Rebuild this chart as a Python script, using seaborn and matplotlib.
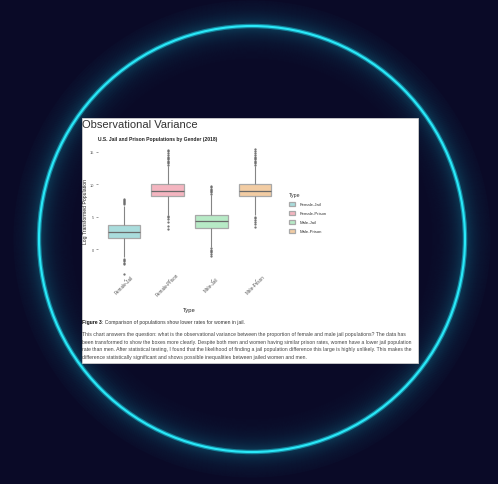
import numpy as np
import pandas as pd
import matplotlib
matplotlib.use("Agg")
import matplotlib.pyplot as plt
import seaborn as sns
from matplotlib.patches import Circle, Rectangle

# groups and colours
types = ['Female-Jail', 'Female-Prison', 'Male-Jail', 'Male-Prison']
colors = ['#a0e5e5', '#ffabb9', '#aff2c3', '#ffcc96']

# box summaries: low whisker, q1, median, q3, high whisker
female_jail = [-1.25, 1.7, 2.6, 3.7, 6.65]
female_prison = [5.3, 8.1, 9.0, 10.0, 12.8]
male_jail = [0.35, 3.3, 4.25, 5.3, 8.25]
male_prison = [5.3, 8.1, 9.0, 10.0, 12.8]

# outlier points
female_jail_out = [7.0, 7.15, 7.3, 7.45, 7.6, 7.7, -1.5, -1.7, -1.9, -2.1, -2.3, -3.9]
female_prison_out = [13.0, 13.2, 13.4, 13.6, 13.8, 14.0, 14.2, 14.5, 14.8, 15.1, 15.3,
                     5.1, 4.9, 4.6, 4.2, 3.6, 3.1]
male_jail_out = [8.5, 8.7, 8.9, 9.1, 9.3, 9.5, 9.7, 0.1, -0.1, -0.3, -0.5, -0.7, -1.0]
male_prison_out = [13.0, 13.2, 13.4, 13.6, 13.8, 14.0, 14.2, 14.5, 14.8, 15.1, 15.4,
                   5.0, 4.8, 4.5, 4.1, 3.8, 3.4]

summaries = [female_jail, female_prison, male_jail, male_prison]
outliers = [female_jail_out, female_prison_out, male_jail_out, male_prison_out]

# weight the summary values so the box quartiles land where they are in the picture
rows = []
for t, s, o in zip(types, summaries, outliers):
    for v in np.repeat(s, 100):
        rows.append((t, v))
    for v in o:
        rows.append((t, v))
df = pd.DataFrame(rows, columns=['Type', 'value'])

W, H = 498, 485
fig = plt.figure(figsize=(W / 100, H / 100), dpi=100)
fig.patch.set_facecolor('#0a0a27')

# background + glowing ring
bg = fig.add_axes([0, 0, 1, 1])
bg.set_xlim(0, W)
bg.set_ylim(H, 0)
bg.axis('off')
bg.set_facecolor('#0a0a27')
cx, cy, r = 252, 240, 213
for d in range(-32, 26):
    a = 0.28 * np.exp(-abs(d) / 10.0)
    bg.add_patch(Circle((cx, cy), r + d, fill=False, lw=0.9, ec='#14aec6', alpha=a))
bg.add_patch(Circle((cx, cy), r, fill=False, lw=3.2, ec='#1cc8dc', alpha=0.55))
bg.add_patch(Circle((cx, cy), r, fill=False, lw=1.5, ec='#2ae8f8'))

# white card
bg.add_patch(Rectangle((82, 119), 336, 245, fc='white', ec='#cfcfcf', lw=0.6, zorder=3))

font = 'Liberation Sans'
bg.text(82, 120, 'Observational Variance', fontsize=8, family=font, color='#333333',
        va='top', ha='left', zorder=4)
bg.text(98, 140, 'U.S. Jail and Prison Populations by Gender (2018)', fontsize=3.6,
        family=font, weight='bold', color='#222222', va='center', ha='left', zorder=4)
fig_lbl = bg.text(82, 323, 'Figure 3', fontsize=3.6, family=font, weight='bold',
                  color='#111111', va='center', ha='left', zorder=4)
fig.canvas.draw()
x_end = bg.transData.inverted().transform(
    fig_lbl.get_window_extent(fig.canvas.get_renderer()))[1][0]
bg.text(x_end, 323, ': Comparison of populations show lower rates for women in jail.',
        fontsize=3.6, family=font, color='#333333', va='center', ha='left', zorder=4)
para = ["This chart answers the question: what is the observational variance between the proportion of female and male jail populations? The data has",
        "been transformed to show the boxes more clearly. Despite both men and women having similar prison rates, women have a lower jail population",
        "rate than men. After statistical testing, I found that the likelihood of finding a jail population difference this large is highly unlikely. This makes the",
        "difference statistically significant and shows possible inequalities between jailed women and men."]
for i, line in enumerate(para):
    bg.text(82, 334.5 + i * 7.7, line, fontsize=3.68, family=font, color='#444444',
            va='center', ha='left', zorder=4)

# the chart itself
ax = fig.add_axes([97.8 / W, 1 - 280 / H, 183.4 / W, 136.4 / H])
ax.set_facecolor('white')
sns.boxplot(data=df, x='Type', y='value', hue='Type', palette=colors, width=0.75,
            linecolor='#a8a8a8', linewidth=0.9, fliersize=0.6, legend=True,
            flierprops=dict(marker='o', markerfacecolor='#6a6a6a', markeredgecolor='#6a6a6a'),
            medianprops=dict(color='#6a6a6a', linewidth=0.9),
            whiskerprops=dict(color='#858585', linewidth=0.8),
            capprops=dict(linewidth=0), ax=ax)
ax.set_xlim(-0.6, 3.6)
ax.set_ylim(-4.6, 16.37)
ax.set_yticks([0, 5, 10, 15])
ax.set_yticklabels(['0', '5', '10', '15'], family=font, fontsize=2.8, color='#555555')
ax.set_xticks(range(4))
ax.set_xticklabels(types, rotation=45, ha='center', va='center', rotation_mode='anchor',
                   family=font, fontsize=3.3, color='#555555')
ax.tick_params(axis='y', length=1.5, width=0.4, color='#555555', pad=1)
ax.tick_params(axis='x', length=1.5, width=0.4, color='#555555', pad=2.4)
for s in ax.spines.values():
    s.set_visible(False)
ax.set_ylabel('Log Transformed Population', family=font, fontsize=3.7, color='#222222', labelpad=1.2)
ax.set_xlabel('Type', family=font, fontsize=4.2, color='#222222', labelpad=7)

leg = ax.legend(title='Type', loc='upper left', bbox_to_anchor=(287 / W, 1 - 191.5 / H),
                bbox_transform=fig.transFigure, frameon=False,
                prop={'family': font, 'size': 3.1}, handlelength=1.4, handleheight=1.25,
                handletextpad=1.2, labelspacing=1.0, borderaxespad=0)
leg.get_title().set_fontsize(3.8)
leg.get_title().set_family(font)
leg.get_title().set_color('#333333')
leg._legend_box.align = 'left'
for t in leg.get_texts():
    t.set_color('#333333')

fig.savefig('out.png', dpi=100, facecolor=fig.get_facecolor())
